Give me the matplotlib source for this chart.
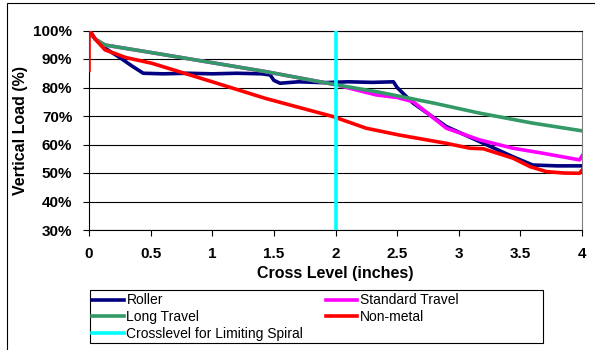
import matplotlib.pyplot as plt
from matplotlib.patches import Rectangle

plt.rcParams['font.family'] = ['Liberation Sans', 'DejaVu Sans']

# values (cross level in inches, vertical load in %)
roller_x = [0.0, 0.02, 0.05, 0.13, 0.25, 0.35, 0.44, 0.6, 0.8, 1.0, 1.2, 1.4, 1.47, 1.5, 1.55, 1.7, 1.9, 2.1, 2.3, 2.47, 2.5, 2.63, 2.9, 3.17, 3.44, 3.6, 3.8, 4.0]
roller_y = [99.5, 99.0, 97.0, 93.8, 90.5, 87.5, 85.0, 84.8, 85.0, 84.8, 85.0, 84.8, 84.4, 82.5, 81.5, 82.0, 81.7, 82.0, 81.8, 82.0, 80.0, 74.5, 66.3, 61.0, 55.7, 52.8, 52.5, 52.5]

long_x = [0.0, 0.02, 0.05, 0.13, 0.5, 1.0, 1.43, 2.0, 2.36, 2.8, 3.17, 3.6, 4.0]
long_y = [99.5, 98.5, 97.0, 94.9, 92.3, 88.7, 85.6, 81.0, 78.3, 74.5, 71.0, 67.5, 64.8]

std_x = [0.0, 0.02, 0.05, 0.13, 0.5, 1.0, 1.43, 2.0, 2.33, 2.5, 2.63, 2.9, 3.17, 3.44, 3.7, 3.98, 4.0]
std_y = [99.5, 98.5, 97.0, 94.9, 92.3, 88.7, 85.6, 81.0, 77.4, 76.5, 75.0, 65.7, 61.6, 58.7, 56.8, 54.6, 56.0]

nonmetal_x = [0.0, 0.0, 0.02, 0.05, 0.13, 0.3, 0.51, 1.0, 1.43, 1.98, 2.25, 2.52, 2.9, 3.09, 3.2, 3.44, 3.58, 3.71, 3.85, 3.98, 4.0]
nonmetal_y = [86.0, 100.0, 99.0, 97.0, 93.2, 90.5, 88.5, 82.0, 76.2, 69.8, 65.7, 63.3, 60.4, 58.7, 58.5, 55.2, 52.2, 50.5, 50.0, 49.9, 51.0]

spiral_x = [2, 2]
spiral_y = [30, 100]

fig = plt.figure(figsize=(5.95, 3.5), dpi=100)
# outer chart border (runs off the right and bottom of the picture)
fig.patches.append(Rectangle((7 / 595, -0.05), 1.1, 1 - 3 / 350 + 0.05, transform=fig.transFigure,
                             fill=False, edgecolor='black', linewidth=0.8))
# legend box
fig.patches.append(Rectangle((90 / 595, 7 / 350), 453 / 595, 53 / 350, transform=fig.transFigure,
                             fill=False, edgecolor='black', linewidth=0.8))

ax = fig.add_axes([89 / 595, 1 - 230 / 350, 493 / 595, 199.5 / 350])

lw = 2.6
ax.plot(roller_x, roller_y, color='#000080', linewidth=lw, label='Roller', zorder=3)
ax.plot(std_x, std_y, color='#ff00ff', linewidth=lw, label='Standard Travel', zorder=3)
ax.plot(long_x, long_y, color='#339966', linewidth=lw, label='Long Travel', zorder=4)
ax.plot(nonmetal_x, nonmetal_y, color='#ff0000', linewidth=lw, label='Non-metal', zorder=5)
ax.plot(spiral_x, spiral_y, color='#00ffff', linewidth=lw, label='Crosslevel for Limiting Spiral', zorder=6)

ax.set_xlim(0, 4)
ax.set_ylim(30, 100)
ax.set_xticks([0, 0.5, 1, 1.5, 2, 2.5, 3, 3.5, 4])
ax.set_xticklabels(['0', '0.5', '1', '1.5', '2', '2.5', '3', '3.5', '4'])
ax.set_yticks(range(30, 101, 10))
ax.set_yticklabels([f'{v}%' for v in range(30, 101, 10)])
for lab in ax.get_xticklabels() + ax.get_yticklabels():
    lab.set_fontweight('bold')
    lab.set_fontsize(11)
ax.tick_params(axis='both', direction='out', length=4, width=0.8, pad=8)
ax.grid(True, axis='y', color='black', linewidth=0.8)
ax.set_axisbelow(True)
ax.spines['right'].set_color('#808080')
ax.spines['top'].set_color('black')

ax.set_xlabel('Cross Level (inches)', fontsize=11.5, fontweight='bold', labelpad=4)
ax.set_ylabel('Vertical Load (%)', fontsize=11.5, fontweight='bold', labelpad=4)

h, l = ax.get_legend_handles_labels()
order = [0, 2, 4, 1, 3]
leg = fig.legend([h[i] for i in order], [l[i] for i in order], ncol=2,
                 loc='upper left', bbox_to_anchor=(91 / 595, 1 - 292 / 350),
                 fontsize=10, frameon=False, handlelength=2.3, handletextpad=0.15,
                 borderaxespad=0, labelspacing=0.2, borderpad=0.1, columnspacing=1.6)

fig.savefig('out.png', dpi=100)
